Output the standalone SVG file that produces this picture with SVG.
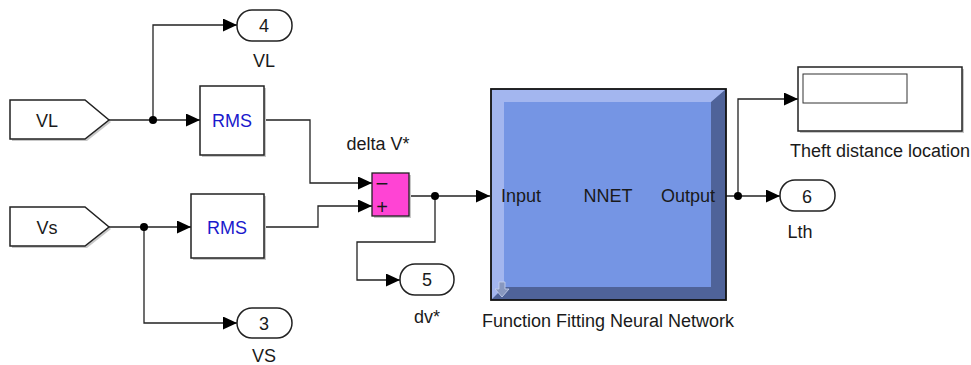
<svg xmlns="http://www.w3.org/2000/svg" width="971" height="365" viewBox="0 0 971 365">
<style>
text{font-family:"Liberation Sans",Arial,sans-serif;fill:#1a1a1a}
.lbl{font-size:18px;text-anchor:middle}
.blk{fill:#fff;stroke:#222;stroke-width:1.5}
.pill{fill:#fff;stroke:#222;stroke-width:1.5}
.w{fill:none;stroke:#222;stroke-width:1.3}
.sh{fill:#c8c8c8}
</style>
<defs>
<marker id="a" markerUnits="userSpaceOnUse" markerWidth="14" markerHeight="13" refX="14" refY="6.5" orient="auto">
<path d="M0,0 L14,6.5 L0,13 z" fill="#000"/>
</marker>
</defs>
<g id="connectors">
<path class="w" d="M109,120 H200" marker-end="url(#a)"/>
<path class="w" d="M153,120 V25 H237" marker-end="url(#a)"/>
<path class="w" d="M264,120 H310 V183 H372" marker-end="url(#a)"/>
<path class="w" d="M109,227 H191" marker-end="url(#a)"/>
<path class="w" d="M144,227 V323 H237" marker-end="url(#a)"/>
<path class="w" d="M264,227 H318 V206 H372" marker-end="url(#a)"/>
<path class="w" d="M409,196 H490" marker-end="url(#a)"/>
<path class="w" d="M435,196 V242 H357 V280 H400" marker-end="url(#a)"/>
<path class="w" d="M726,196 H780" marker-end="url(#a)"/>
<path class="w" d="M738,196 V99 H798" marker-end="url(#a)"/>
<circle cx="153" cy="120" r="4" fill="#000"/>
<circle cx="144" cy="227" r="4" fill="#000"/>
<circle cx="435" cy="196" r="4" fill="#000"/>
<circle cx="738" cy="196" r="4" fill="#000"/>
</g>
<g id="in_VL">
<polygon class="sh" points="12,102 87,102 111,122 87,141 12,141"/>
<polygon class="blk" points="10,100 85,100 109,120 85,139 10,139"/>
<text x="47" y="127" class="lbl">VL</text>
</g>
<g id="in_Vs">
<polygon class="sh" points="12,209 87,209 111,229 87,248 12,248"/>
<polygon class="blk" points="10,207 85,207 109,227 85,246 10,246"/>
<text x="47" y="234" class="lbl">Vs</text>
</g>
<g id="rms1">
<rect class="sh" x="202" y="88" width="64" height="69"/>
<rect class="blk" x="200" y="86" width="64" height="69"/>
<text x="232" y="127" class="lbl" style="fill:#1a1acc">RMS</text>
</g>
<g id="rms2">
<rect class="sh" x="193" y="196" width="73" height="64"/>
<rect class="blk" x="191" y="194" width="73" height="64"/>
<text x="227" y="234" class="lbl" style="fill:#1a1acc">RMS</text>
</g>
<g id="out4">
<rect class="pill" x="237" y="10" width="55" height="31" rx="15"/>
<text x="264" y="32" class="lbl">4</text>
<text x="264" y="67" class="lbl">VL</text>
</g>
<g id="out3">
<rect class="pill" x="237" y="308" width="55" height="30" rx="15"/>
<text x="264" y="330" class="lbl">3</text>
<text x="264" y="362" class="lbl">VS</text>
</g>
<g id="sum">
<text x="378" y="150" class="lbl">delta V*</text>
<rect class="sh" x="374" y="175" width="37" height="43"/>
<rect x="372" y="173" width="37" height="43" fill="#ff44d4" stroke="#222" stroke-width="1.3"/>
<text x="382" y="191" class="lbl" style="font-size:22px">−</text>
<text x="382" y="214" class="lbl" style="font-size:20px">+</text>
</g>
<g id="out5">
<rect class="pill" x="400" y="264" width="54" height="31" rx="15"/>
<text x="427" y="286" class="lbl">5</text>
<text x="427" y="323" class="lbl">dv*</text>
</g>
<g id="nnet">
<rect x="491" y="89" width="235" height="211" fill="#a3b6ef"/>
<polygon points="711,102 726,89 726,300 491,300 504,287 711,287" fill="#4f6399"/>
<rect x="504" y="102" width="207" height="185" fill="#7595e4"/>
<rect x="491" y="89" width="235" height="211" fill="none" stroke="#111" stroke-width="1.8"/>
<path d="M499,282 h6 v7 h4 l-7,8 l-7,-8 h4 z" fill="#8797bf" stroke="#c9d3ee" stroke-width="0.8"/>
<text x="521" y="202" class="lbl">Input</text>
<text x="608" y="202" class="lbl">NNET</text>
<text x="688" y="202" class="lbl">Output</text>
<text x="608" y="327" class="lbl">Function Fitting Neural Network</text>
</g>
<g id="display">
<rect class="sh" x="800" y="69" width="164" height="64"/>
<rect class="blk" x="798" y="67" width="164" height="64"/>
<rect x="803" y="74" width="104" height="29" fill="#fff" stroke="#333" stroke-width="1"/>
<text x="880" y="157" class="lbl">Theft distance location</text>
</g>
<g id="out6">
<rect class="pill" x="780" y="180" width="55" height="31" rx="15"/>
<text x="807" y="203" class="lbl">6</text>
<text x="800" y="238" class="lbl">Lth</text>
</g>
</svg>
